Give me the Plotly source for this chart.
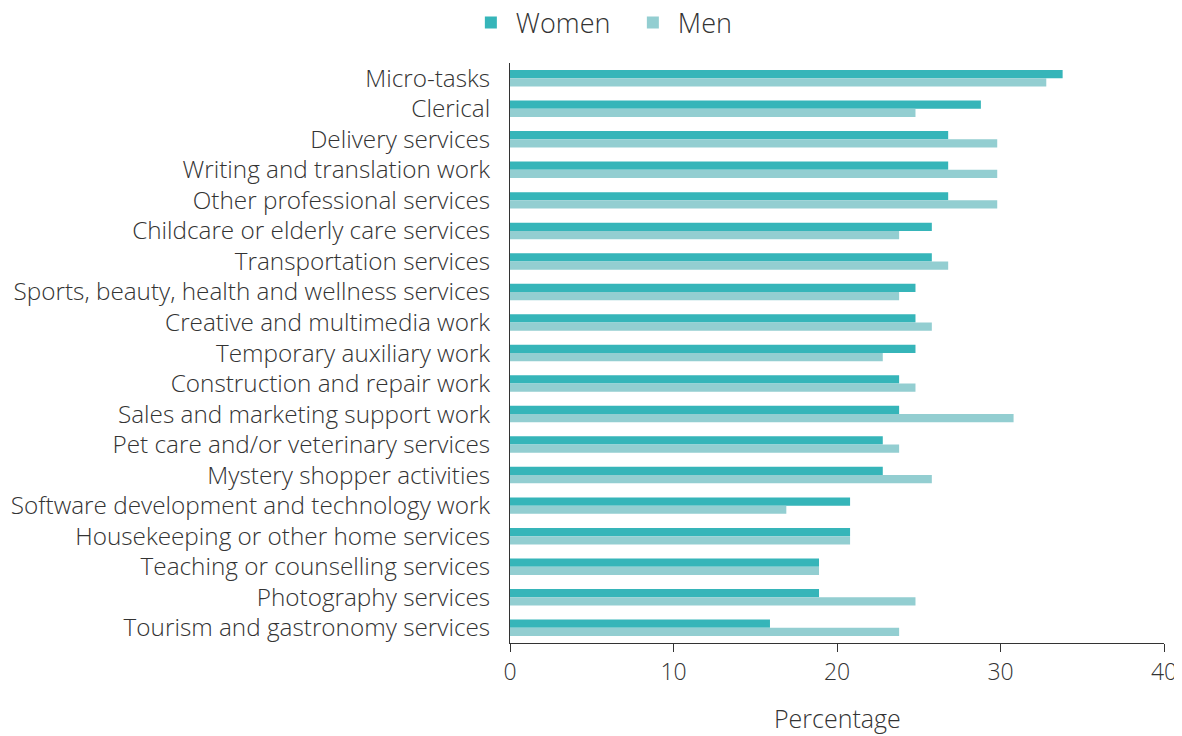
import plotly.graph_objects as go

categories = [
    "Micro-tasks", "Clerical", "Delivery services", "Writing and translation work",
    "Other professional services", "Childcare or elderly care services",
    "Transportation services", "Sports, beauty, health and wellness services",
    "Creative and multimedia work", "Temporary auxiliary work",
    "Construction and repair work", "Sales and marketing support work",
    "Pet care and/or veterinary services", "Mystery shopper activities",
    "Software development and technology work", "Housekeeping or other home services",
    "Teaching or counselling services", "Photography services",
    "Tourism and gastronomy services",
]
women = [33.8, 28.8, 26.8, 26.8, 26.8, 25.8, 25.8, 24.8, 24.8, 24.8,
         23.8, 23.8, 22.8, 22.8, 20.8, 20.8, 18.9, 18.9, 15.9]
men = [32.8, 24.8, 29.8, 29.8, 29.8, 23.8, 26.8, 23.8, 25.8, 22.8,
       24.8, 30.8, 23.8, 25.8, 16.9, 20.8, 18.9, 24.8, 23.8]
x_ticks = [0, 10, 20, 30, 40]
x_title = "Percentage"

FONT = "Open Sans"
TXT = "#333333"

fig = go.Figure()
fig.add_trace(go.Bar(name="Women", y=categories, x=women, orientation="h",
                     marker=dict(color="#36b5b9", line=dict(width=0))))
fig.add_trace(go.Bar(name="Men", y=categories, x=men, orientation="h",
                     marker=dict(color="#93ced1", line=dict(width=0))))

fig.update_layout(
    width=1174, height=728,
    paper_bgcolor="white", plot_bgcolor="white",
    barmode="group", bargap=0.46, bargroupgap=0,
    margin=dict(l=502, r=18, t=55, b=93),
    font=dict(family=FONT, color=TXT, size=24, weight=300),
    legend=dict(orientation="h", x=0.39, xanchor="left", y=0.9793, yanchor="middle",
                yref="container", xref="container",
                font=dict(size=27, family=FONT, color=TXT, weight=300),
                traceorder="normal", itemwidth=40, entrywidth=107, entrywidthmode="pixels"),
    showlegend=True,
    annotations=[dict(text=x_title, x=0.5, xref="paper", y=-0.129, yref="paper",
                      xanchor="center", yanchor="middle", showarrow=False,
                      font=dict(size=25, family=FONT, color=TXT, weight=300))],
)
fig.update_yaxes(autorange="reversed", showline=True, linecolor="#333", linewidth=1,
                 ticks="", tickfont=dict(size=24.3, family=FONT, color=TXT, weight=300),
                 ticklabelstandoff=14, showgrid=False, automargin=False)
fig.update_xaxes(range=[0, 40], tickvals=x_ticks, showline=True, linecolor="#333", linewidth=1,
                 ticks="outside", ticklen=8, tickcolor="#333", showgrid=False, zeroline=False,
                 automargin=False, ticklabeloverflow="allow",
                 tickfont=dict(size=23, family=FONT, color=TXT, weight=300))

fig.write_html("out.html")
